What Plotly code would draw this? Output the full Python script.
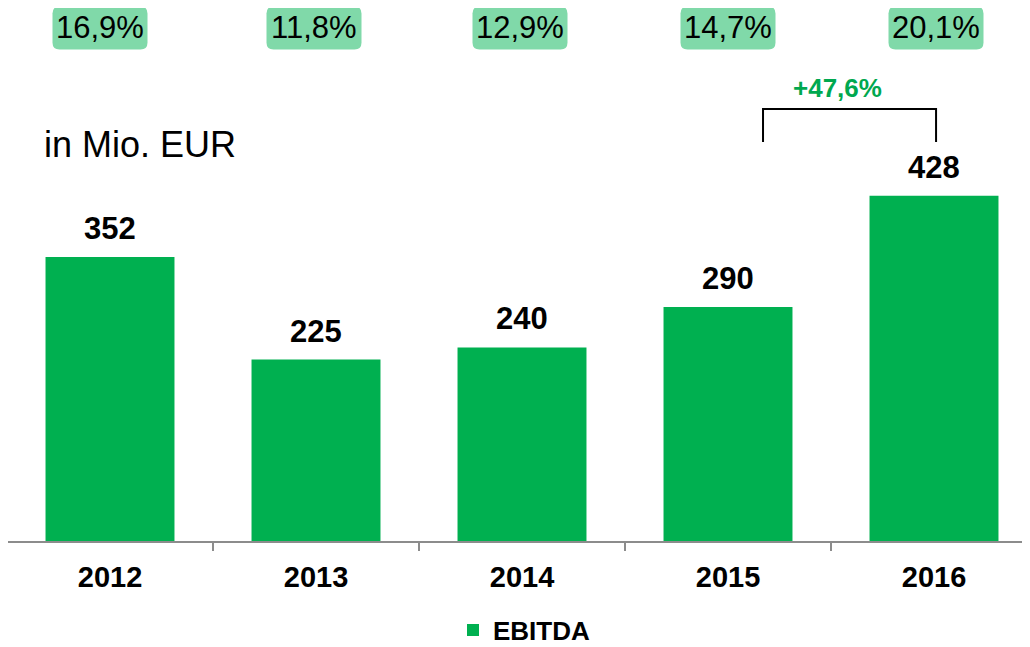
import plotly.graph_objects as go

# data
years = ["2012", "2013", "2014", "2015", "2016"]
ebitda = [352, 225, 240, 290, 428]
margins = ["16,9%", "11,8%", "12,9%", "14,7%", "20,1%"]

GREEN = "#00B050"
BOX_GREEN = "#80D9A9"
FONT = "Liberation Sans, Arial, sans-serif"

# the page body has an 8px margin, so the figure sits 8px right/down in the shot
OFF = 8
PLOT_H = 533   # plot area height in px (axis line at page y 541)
PLOT_W = 1022


def py(page_y):
    # page pixel row -> paper y
    return 1 - (page_y - OFF) / PLOT_H


fig = go.Figure()

fig.add_trace(go.Bar(
    x=years, y=ebitda, name="<b>EBITDA</b>",
    marker=dict(color=GREEN, line=dict(width=0)),
    width=0.626,
))

# value labels above the bars
for i, v in enumerate(ebitda):
    fig.add_annotation(x=i, y=v, xref="x", yref="y", text="<b>%d</b>" % v, showarrow=False,
                       yanchor="bottom", yshift=9,
                       font=dict(size=31, color="black", family=FONT))


# margin boxes at the top (rounded rectangles + text)
def rounded_box(w, h, r, dx=0):
    x0, x1, y0, y1 = -w / 2 + dx, w / 2 + dx, -h / 2, h / 2
    return (f"M {x0 + r},{y0} L {x1 - r},{y0} Q {x1},{y0} {x1},{y0 + r} "
            f"L {x1},{y1 - r} Q {x1},{y1} {x1 - r},{y1} "
            f"L {x0 + r},{y1} Q {x0},{y1} {x0},{y1 - r} "
            f"L {x0},{y0 + r} Q {x0},{y0} {x0 + r},{y0} Z")


box_shift = [-10, -2, -2, 0, 2]
box_y = py(28)
for i, m in enumerate(margins):
    fig.add_shape(type="path", xref="x", yref="paper",
                  xsizemode="pixel", ysizemode="pixel",
                  xanchor=i, yanchor=box_y,
                  path=rounded_box(95, 43, 7, box_shift[i]),
                  fillcolor=BOX_GREEN, line=dict(width=0), layer="below")
    fig.add_annotation(x=i, y=box_y, xref="x", yref="paper", text=m,
                       showarrow=False, yanchor="middle", xshift=box_shift[i],
                       font=dict(size=31, color="black", family=FONT))

# growth bracket 2015 -> 2016
growth = ebitda[-1] / ebitda[-2] - 1
left_x, right_x = 3.17, 4.01
top_y, bot_y = py(109), py(142)
fig.add_shape(type="path", xref="x", yref="paper",
              path=f"M {left_x},{bot_y} L {left_x},{top_y} L {right_x},{top_y} L {right_x},{bot_y}",
              line=dict(color="black", width=2))
fig.add_annotation(x=(left_x + right_x) / 2 - 0.06, y=py(88), xref="x", yref="paper",
                   text="<b>+%s%%</b>" % ("%.1f" % (growth * 100)).replace(".", ","),
                   showarrow=False, yanchor="middle",
                   font=dict(size=26, color="#00A84F", family=FONT))

# unit label
fig.add_annotation(x=(42 - OFF) / PLOT_W, y=py(144), xref="paper", yref="paper",
                   text="in Mio. EUR", showarrow=False, xanchor="left", yanchor="middle",
                   font=dict(size=36, color="black", family=FONT))

fig.update_layout(
    width=1030, height=647,
    margin=dict(l=0, r=1030 - PLOT_W, t=0, b=647 - PLOT_H, autoexpand=False),
    plot_bgcolor="white", paper_bgcolor="white",
    font=dict(family=FONT, color="black"),
    showlegend=True,
    legend=dict(orientation="h", x=(524 - OFF) / PLOT_W, xanchor="center",
                y=py(630), yanchor="middle",
                font=dict(size=26, color="black", family=FONT),
                itemwidth=30),
)
# category 0 sits at page x 110, categories are 206px apart
x0 = -(110 - OFF) / 206
fig.update_xaxes(
    type="category",
    range=[x0, x0 + PLOT_W / 206],
    showline=True, linecolor="#8C8C8C", linewidth=2,
    ticks="outside", tickson="boundaries", ticklen=8, tickcolor="#8C8C8C", tickwidth=2,
    tickfont=dict(size=29, color="black", family=FONT),
    tickprefix="<b>", ticksuffix="</b>", ticklabelstandoff=9,
    showgrid=False, fixedrange=True, automargin=False,
)
fig.update_yaxes(range=[0, PLOT_H / 0.8066], visible=False, showgrid=False, zeroline=False,
                 fixedrange=True, automargin=False)

fig.write_html("out.html")
